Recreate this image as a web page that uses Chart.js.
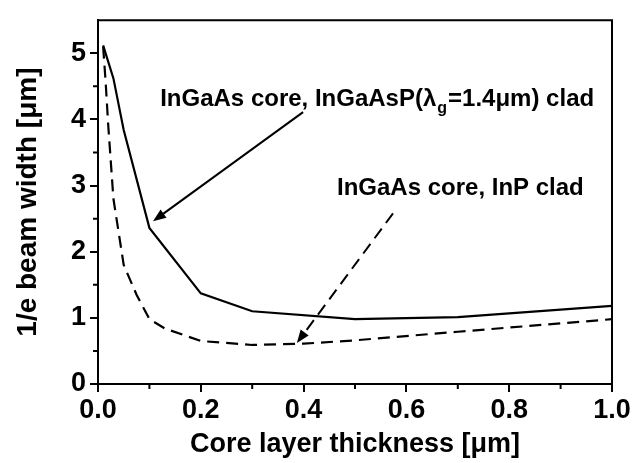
<!DOCTYPE html>
<html lang="en">
<head>
  <meta charset="UTF-8">
  <title>1/e beam width vs core layer thickness</title>
  <script src="https://cdn.jsdelivr.net/npm/chart.js"></script>
  <style>
    html, body { margin: 0; padding: 0; background: #fff; }
    #wrap { width: 633px; height: 463px; }
  </style>
</head>
<body>
  <div id="wrap"><canvas id="beamChart" width="633" height="463"></canvas></div>

  <script>
    // InGaAs core, InGaAsP(lambda_g = 1.4um) clad  -> solid
    const xSolid = [0.01, 0.03, 0.05, 0.10, 0.20, 0.30, 0.50, 0.70, 1.00];
    const ySolid = [5.12, 4.62, 3.84, 2.36, 1.37, 1.10, 0.98, 1.01, 1.18];

    // InGaAs core, InP clad -> dashed
    const xDashed = [0.01, 0.015, 0.02, 0.03, 0.05, 0.075, 0.10, 0.13, 0.20, 0.30, 0.40, 0.50, 0.70, 1.00];
    const yDashed = [5.10, 4.55, 3.90, 2.80, 1.80, 1.35, 0.98, 0.84, 0.65, 0.59, 0.61, 0.66, 0.79, 0.98];

    const xTicks = [0, 0.2, 0.4, 0.6, 0.8, 1.0];
    const xMinor = [0.1, 0.3, 0.5, 0.7, 0.9];
    const yTicks = [0, 1, 2, 3, 4, 5];
    const yMinor = [0.5, 1.5, 2.5, 3.5, 4.5];

    // annotation arrows, in data units: [x, y] from -> to (head)
    const solidArrow = [[0.399, 4.11], [0.107, 2.46]];
    const dashedArrow = [[0.574, 2.58], [0.387, 0.62]];
    const solidLabelAt = [0.121, 4.21];
    const dashedLabelAt = [0.465, 2.85];

    const FONT = '"Liberation Sans", Arial, sans-serif';

    function toPoints(xs, ys) {
      return xs.map((x, i) => ({ x: x, y: ys[i] }));
    }

    function drawArrow(ctx, sx, sy, a, b, dashed) {
      const x1 = sx.getPixelForValue(a[0]), y1 = sy.getPixelForValue(a[1]);
      const x2 = sx.getPixelForValue(b[0]), y2 = sy.getPixelForValue(b[1]);
      const ang = Math.atan2(y2 - y1, x2 - x1);
      const headLen = 13, headW = 5;
      ctx.save();
      ctx.strokeStyle = '#000';
      ctx.fillStyle = '#000';
      ctx.lineWidth = 2;
      ctx.setLineDash(dashed ? [12, 7] : []);
      ctx.beginPath();
      ctx.moveTo(x1, y1);
      ctx.lineTo(x2 - Math.cos(ang) * headLen * 0.7, y2 - Math.sin(ang) * headLen * 0.7);
      ctx.stroke();
      ctx.setLineDash([]);
      ctx.beginPath();
      ctx.moveTo(x2, y2);
      ctx.lineTo(x2 - headLen * Math.cos(ang) + headW * Math.sin(ang), y2 - headLen * Math.sin(ang) - headW * Math.cos(ang));
      ctx.lineTo(x2 - headLen * Math.cos(ang) - headW * Math.sin(ang), y2 - headLen * Math.sin(ang) + headW * Math.cos(ang));
      ctx.closePath();
      ctx.fill();
      ctx.restore();
    }

    const decorPlugin = {
      id: 'decor',
      afterDraw(chart) {
        const { ctx, chartArea: ca } = chart;
        const sx = chart.scales.x, sy = chart.scales.y;

        ctx.save();
        ctx.strokeStyle = '#000';
        ctx.lineWidth = 2;
        // frame: top and right
        ctx.beginPath();
        ctx.moveTo(ca.left, ca.top);
        ctx.lineTo(ca.right, ca.top);
        ctx.lineTo(ca.right, ca.bottom);
        ctx.stroke();

        // minor ticks (outward)
        ctx.beginPath();
        xMinor.forEach((v) => {
          const px = sx.getPixelForValue(v);
          ctx.moveTo(px, ca.bottom);
          ctx.lineTo(px, ca.bottom + 5);
        });
        yMinor.forEach((v) => {
          const py = sy.getPixelForValue(v);
          ctx.moveTo(ca.left, py);
          ctx.lineTo(ca.left - 5, py);
        });
        ctx.stroke();
        ctx.restore();

        drawArrow(ctx, sx, sy, solidArrow[0], solidArrow[1], false);
        drawArrow(ctx, sx, sy, dashedArrow[0], dashedArrow[1], true);

        // labels
        ctx.save();
        ctx.fillStyle = '#000';
        ctx.textBaseline = 'alphabetic';
        ctx.textAlign = 'left';
        let tx = sx.getPixelForValue(solidLabelAt[0]);
        const ty = sy.getPixelForValue(solidLabelAt[1]);
        const big = 'bold 24px ' + FONT;
        const small = 'bold 16px ' + FONT;
        ctx.font = big;
        const p1 = 'InGaAs core, InGaAsP(\u03bb';
        ctx.fillText(p1, tx, ty);
        tx += ctx.measureText(p1).width + 1;
        ctx.font = small;
        ctx.fillText('g', tx, ty + 7);
        tx += ctx.measureText('g').width + 1;
        ctx.font = big;
        ctx.fillText('=1.4\u03bcm) clad', tx, ty);

        ctx.fillText('InGaAs core, InP clad', sx.getPixelForValue(dashedLabelAt[0]), sy.getPixelForValue(dashedLabelAt[1]));
        ctx.restore();
      }
    };

    const ctx = document.getElementById('beamChart').getContext('2d');
    new Chart(ctx, {
      type: 'line',
      data: {
        datasets: [{
          label: 'InGaAs core, InGaAsP clad',
          data: toPoints(xSolid, ySolid),
          borderColor: '#000',
          borderWidth: 2.2,
          pointRadius: 0,
          tension: 0,
          fill: false
        }, {
          label: 'InGaAs core, InP clad',
          data: toPoints(xDashed, yDashed),
          borderColor: '#000',
          borderWidth: 2.2,
          borderDash: [12, 7],
          pointRadius: 0,
          tension: 0,
          fill: false
        }]
      },
      options: {
        responsive: false,
        animation: false,
        events: [],
        layout: { padding: { left: 0, top: 13, right: 21, bottom: 0 } },
        plugins: {
          legend: { display: false },
          tooltip: { enabled: false }
        },
        scales: {
          x: {
            type: 'linear',
            min: 0,
            max: 1.0,
            afterBuildTicks: (scale) => { scale.ticks = xTicks.map((v) => ({ value: v })); },
            afterFit: (scale) => { scale.height = 79; },
            ticks: {
              color: '#000',
              padding: 2,
              font: { family: FONT, size: 27, weight: 'bold' },
              callback: (v) => Number(v).toFixed(1)
            },
            grid: { drawOnChartArea: false, color: '#000', lineWidth: 2, tickLength: 8 },
            border: { color: '#000', width: 2 },
            title: {
              display: true,
              text: 'Core layer thickness [\u03bcm]',
              color: '#000',
              font: { family: FONT, size: 27, weight: 'bold' },
              padding: { top: 0, bottom: 2 }
            }
          },
          y: {
            type: 'linear',
            min: 0,
            max: 5.5,
            afterBuildTicks: (scale) => { scale.ticks = yTicks.map((v) => ({ value: v })); },
            afterFit: (scale) => { scale.width = 98; },
            ticks: {
              color: '#000',
              padding: 4,
              font: { family: FONT, size: 27, weight: 'bold' },
              callback: (v) => String(v)
            },
            grid: { drawOnChartArea: false, color: '#000', lineWidth: 2, tickLength: 8 },
            border: { color: '#000', width: 2 },
            title: {
              display: true,
              text: '1/e beam width [\u03bcm]',
              color: '#000',
              font: { family: FONT, size: 28, weight: 'bold' },
              padding: { top: 11, bottom: 0 }
            }
          }
        }
      },
      plugins: [decorPlugin]
    });
  </script>
</body>
</html>
